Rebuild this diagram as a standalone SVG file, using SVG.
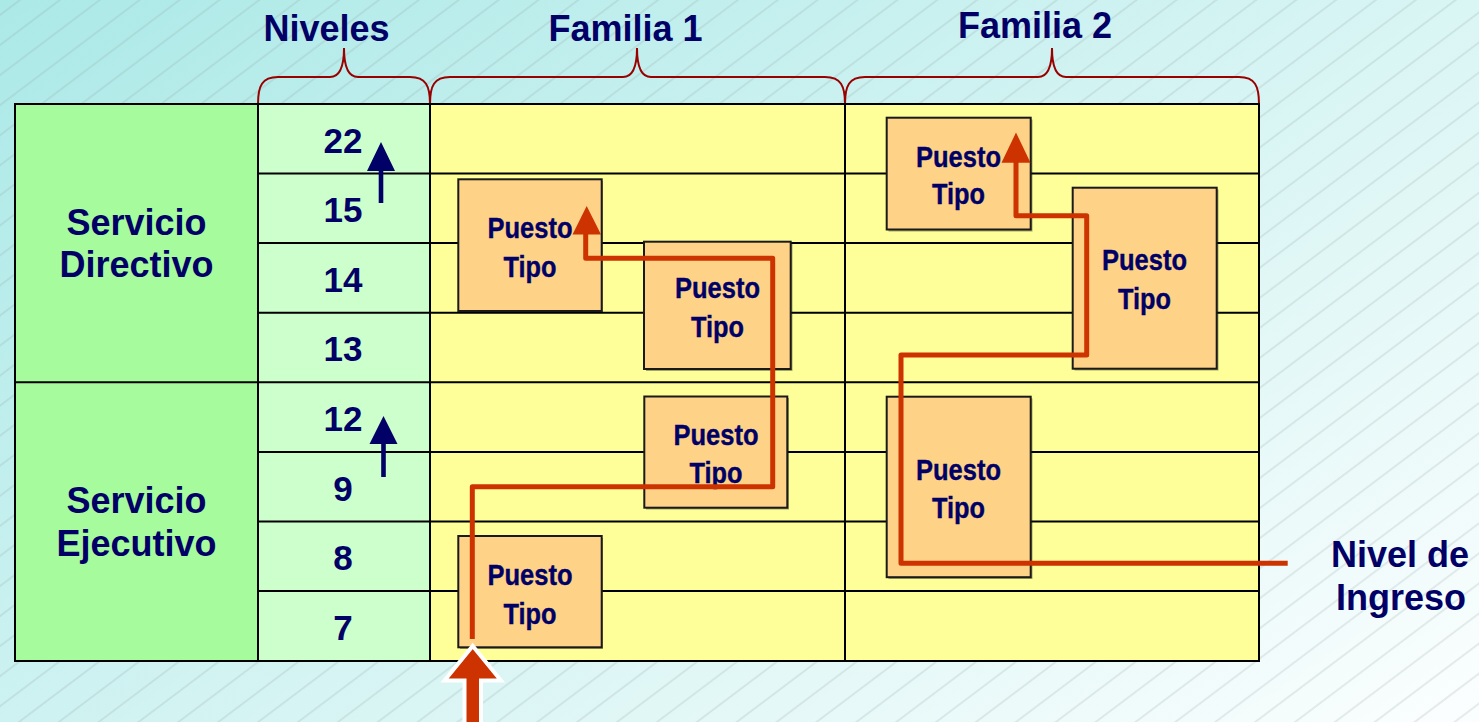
<svg xmlns="http://www.w3.org/2000/svg" width="1479" height="722" viewBox="0 0 1479 722">
  <defs>
    <linearGradient id="bgGrad" gradientUnits="userSpaceOnUse" x1="0" y1="0" x2="786" y2="1177">
      <stop offset="0" stop-color="#abe9e7"/>
      <stop offset="1" stop-color="#fbfefe"/>
    </linearGradient>
    <pattern id="hatch" patternUnits="userSpaceOnUse" width="40" height="24" patternTransform="rotate(-37)">
      <line x1="0" y1="12" x2="40" y2="12" stroke="#8c9c9c" stroke-width="0.7" stroke-opacity="0.55"/>
    </pattern>
  </defs>
  <style>
    .hdr { font-family: "Liberation Sans", Arial, sans-serif; font-weight: bold; font-size: 36px; fill: #000066; text-anchor: middle; }
    .lvl { font-family: "Liberation Sans", Arial, sans-serif; font-weight: bold; font-size: 35px; fill: #000066; text-anchor: middle; }
    .pt { font-family: "Liberation Sans", Arial, sans-serif; font-weight: bold; font-size: 30px; fill: #000066; text-anchor: middle; stroke: #000066; stroke-width: 0.4; }
    .grid { stroke: #000000; stroke-width: 2; fill: none; }
    .brace { stroke: #990000; stroke-width: 2; fill: none; }
    .box { fill: #ffd387; stroke: #1a1a1a; stroke-width: 2; }
    .shadow { fill: #000000; fill-opacity: 0.35; }
    .route { stroke: #cc3300; stroke-width: 5; fill: none; stroke-linejoin: round; }
    .routeHead { fill: #cc3300; }
    .up { fill: #000066; }
  </style>

  <!-- background -->
  <rect x="0" y="0" width="1479" height="722" fill="url(#bgGrad)"/>
  <rect x="0" y="0" width="1479" height="722" fill="url(#hatch)"/>

  <!-- column headings with braces -->
  <g id="headings">
    <text class="hdr" x="326.5" y="41">Niveles</text>
    <text class="hdr" x="625.5" y="41">Familia 1</text>
    <text class="hdr" x="1035" y="38">Familia 2</text>
    <path class="brace" d="M258,104 C258,86 262,77 278,77 L330,77 C339,77 344,68 344,48 C344,68 349,77 358,77 L410,77 C426,77 430,86 430,104"/>
    <path class="brace" d="M430,104 C430,86 434,77 450,77 L623,77 C632,77 637,68 637,48 C637,68 642,77 651,77 L825,77 C841,77 845,86 845,104"/>
    <path class="brace" d="M845,104 C845,86 849,77 865,77 L1038,77 C1047,77 1052,68 1052,48 C1052,68 1057,77 1066,77 L1239,77 C1255,77 1259,86 1259,104"/>
  </g>

  <!-- table body -->
  <g id="table">
    <rect x="15" y="104" width="243" height="557" fill="#a6fc9c"/>
    <rect x="258" y="104" width="172" height="557" fill="#ccffcc"/>
    <rect x="430" y="104" width="829" height="557" fill="#ffff99"/>
    <path class="grid" d="M258,173.5 H1259 M258,243 H1259 M258,312.7 H1259 M15,382.3 H1259 M258,452 H1259 M258,521.5 H1259 M258,591 H1259"/>
    <path class="grid" d="M258,104 V661 M430,104 V661 M845,104 V661"/>
    <rect class="grid" x="15" y="104" width="1244" height="557" stroke-width="2.5"/>
  </g>

  <!-- service groups -->
  <g id="servicio-directivo">
    <text class="hdr" x="136.5" y="235">Servicio</text>
    <text class="hdr" x="136.5" y="277">Directivo</text>
  </g>
  <g id="servicio-ejecutivo">
    <text class="hdr" x="136.5" y="513">Servicio</text>
    <text class="hdr" x="136.5" y="556">Ejecutivo</text>
  </g>

  <!-- level numbers -->
  <g id="niveles">
    <text class="lvl" x="343" y="152.5">22</text>
    <text class="lvl" x="343" y="222">15</text>
    <text class="lvl" x="343" y="291.5">14</text>
    <text class="lvl" x="343" y="361">13</text>
    <text class="lvl" x="343" y="431">12</text>
    <text class="lvl" x="343" y="500.5">9</text>
    <text class="lvl" x="343" y="570">8</text>
    <text class="lvl" x="343" y="639.5">7</text>
    <path class="up" d="M367,171 L381,142 L395,171 L383.3,171 L383.3,203 L378.7,203 L378.7,171 Z"/>
    <path class="up" d="M369.5,444 L383.5,416 L397.5,444 L385.8,444 L385.8,477 L381.2,477 L381.2,444 Z"/>
  </g>

  <!-- Familia 1 positions -->
  <g id="f1-puesto-a">
    <rect class="shadow" x="460" y="181" width="143" height="132"/>
    <rect class="box" x="458.3" y="179.3" width="143.4" height="131.7"/>
    <text class="pt" x="530" y="238" textLength="85" lengthAdjust="spacingAndGlyphs">Puesto</text>
    <text class="pt" x="530" y="277" textLength="53" lengthAdjust="spacingAndGlyphs">Tipo</text>
  </g>
  <g id="f1-puesto-b">
    <rect class="shadow" x="646" y="243.5" width="146.5" height="127.5"/>
    <rect class="box" x="644" y="241.7" width="146.7" height="127.3"/>
    <text class="pt" x="717.5" y="298" textLength="85" lengthAdjust="spacingAndGlyphs">Puesto</text>
    <text class="pt" x="717.5" y="337" textLength="53" lengthAdjust="spacingAndGlyphs">Tipo</text>
  </g>
  <g id="f1-puesto-c">
    <rect class="shadow" x="646" y="398" width="143" height="111.5"/>
    <rect class="box" x="644.3" y="396.5" width="143" height="111.2"/>
    <text class="pt" x="716" y="444.5" textLength="85" lengthAdjust="spacingAndGlyphs">Puesto</text>
    <text class="pt" x="716" y="483" textLength="53" lengthAdjust="spacingAndGlyphs">Tipo</text>
  </g>
  <g id="f1-puesto-d">
    <rect class="shadow" x="460" y="538" width="143" height="111"/>
    <rect class="box" x="458.3" y="536" width="143.4" height="111.3"/>
    <text class="pt" x="530" y="585" textLength="85" lengthAdjust="spacingAndGlyphs">Puesto</text>
    <text class="pt" x="530" y="624" textLength="53" lengthAdjust="spacingAndGlyphs">Tipo</text>
  </g>

  <!-- Familia 2 positions -->
  <g id="f2-puesto-e">
    <rect class="shadow" x="888.5" y="119.5" width="144" height="112"/>
    <rect class="box" x="886.7" y="117.7" width="144" height="111.8"/>
    <text class="pt" x="958.5" y="167" textLength="85" lengthAdjust="spacingAndGlyphs">Puesto</text>
    <text class="pt" x="958.5" y="204" textLength="53" lengthAdjust="spacingAndGlyphs">Tipo</text>
  </g>
  <g id="f2-puesto-f">
    <rect class="shadow" x="1074.5" y="189.5" width="144" height="181"/>
    <rect class="box" x="1072.7" y="187.7" width="144" height="181"/>
    <text class="pt" x="1144.5" y="270" textLength="85" lengthAdjust="spacingAndGlyphs">Puesto</text>
    <text class="pt" x="1144.5" y="308.5" textLength="53" lengthAdjust="spacingAndGlyphs">Tipo</text>
  </g>
  <g id="f2-puesto-g">
    <rect class="shadow" x="888.5" y="398.5" width="144" height="180.5"/>
    <rect class="box" x="886.7" y="396.7" width="144" height="180.5"/>
    <text class="pt" x="958.5" y="479.5" textLength="85" lengthAdjust="spacingAndGlyphs">Puesto</text>
    <text class="pt" x="958.5" y="518" textLength="53" lengthAdjust="spacingAndGlyphs">Tipo</text>
  </g>

  <!-- entry level label -->
  <g id="nivel-ingreso">
    <text class="hdr" x="1400" y="567">Nivel de</text>
    <text class="hdr" x="1401" y="610">Ingreso</text>
  </g>

  <!-- career routes -->
  <g id="connectors">
    <path class="route" d="M472.3,639 V486.7 H772.7 V258.3 H585.7 V232"/>
    <path class="routeHead" d="M572.5,234.5 L586.7,206 L601,234.5 Z"/>
    <path class="route" d="M1287.7,563.3 H901 V355 H1086.7 V215.7 H1016 V160"/>
    <path class="routeHead" d="M1001.5,162.7 L1016,132.5 L1030.5,162.7 Z"/>
    <!-- entry arrow from below -->
    <path d="M464.5,724 L464.5,680.5 L444.5,680.5 L472.7,646 L501,680.5 L481,680.5 L481,724" fill="#cc3300" stroke="#ffffff" stroke-width="4" stroke-linejoin="miter"/>
  </g>
</svg>
